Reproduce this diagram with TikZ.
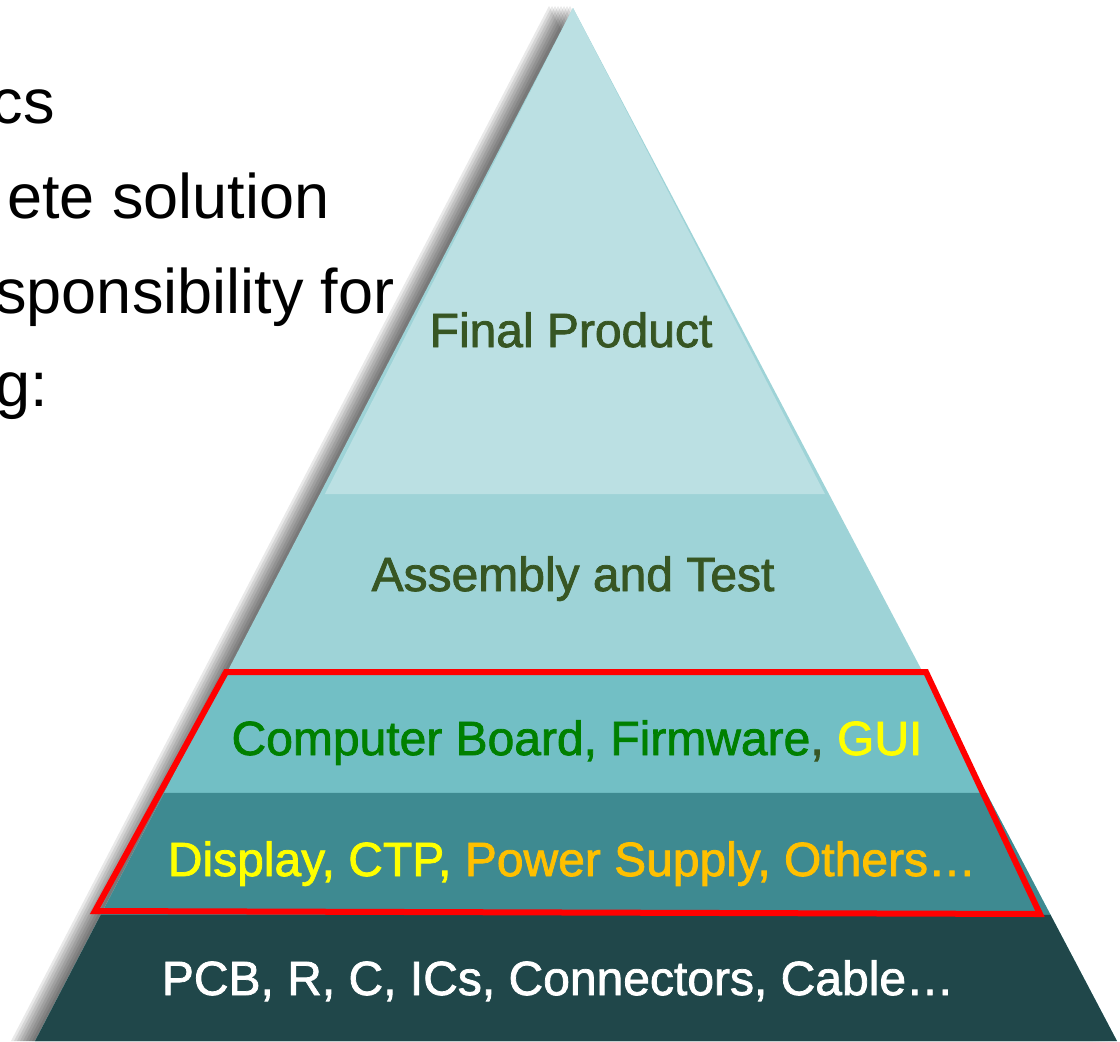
\documentclass[tikz,border=0pt]{standalone}
\usepackage{fontspec}
\setmainfont{Liberation Sans}
\newfontfamily\tierfont[FakeBold=1.6]{Liberation Sans}
\usepackage{xcolor}
\usepackage{tikz}
\usetikzlibrary{calc}
\definecolor{tierA}{HTML}{BBE0E3}
\definecolor{tierB}{HTML}{9ED3D7}
\definecolor{tierC}{HTML}{72BFC5}
\definecolor{tierD}{HTML}{3E8A91}
\definecolor{tierE}{HTML}{20474A}
\definecolor{olivetext}{HTML}{375623}
\definecolor{boardgreen}{HTML}{008000}
\definecolor{guiyellow}{HTML}{FFFF00}
\definecolor{psorange}{HTML}{FFC000}
\tikzset{
  tierlbl/.style={font=\tierfont\fontsize{24}{28}\selectfont, inner sep=0pt, anchor=base},
  bulletline/.style={font=\fontsize{31.5}{36}\selectfont, inner sep=0pt, anchor=base east},
  redbox/.style={draw=red, line width=3pt, line join=miter},
  shade/.style={fill=black, opacity=0.085}
}
\newcommand{\Tier}[3]{% #1=colour, #2=top fraction, #3=bottom fraction
  \fill[#1] ($(apex)!#2!(bl)$) -- ($(apex)!#2!(br)$) -- ($(apex)!#3!(br)$) -- ($(apex)!#3!(bl)$) -- cycle;
}

\begin{document}
\begin{tikzpicture}[x=0.5pt,y=-0.5pt]
  \useasboundingbox (0,0) rectangle (1120,1041);
  \fill[white] (0,0) rectangle (1120,1041);
  \clip (0,0) rectangle (1120,1041);
  % text cut off on the left
  \node[bulletline] (l1) at (55,123) {cs};
  \node[bulletline] (l2) at (330,218) {ete solution};
  \node[bulletline] (l3) at (395,313) {sponsibility for};
  \node[bulletline] (l4) at (48,406) {g:};
  % pyramid corners
  \coordinate (apex) at (573,8);
  \coordinate (bl) at (35,1041);
  \coordinate (br) at (1117,1041);
  % soft shadow on the left flank
  \foreach \s in {24,21,18,15,12,9,6,3}{
    \fill[shade] ($(apex)+(-\s,-2)$) -- ($(bl)+(-\s,0)$) -- ($(br)+(-\s,0)$) -- cycle;
  }
  % tiers, top to bottom
  \fill[tierB] (apex) -- (bl) -- (br) -- cycle;
  \fill[tierA] (apex) -- ($(apex)!0.4705!(bl)+(5,0)$) -- ($(apex)!0.4705!(br)+(-4,0)$) -- cycle;
  \Tier{tierC}{0.6409}{0.7599}
  \Tier{tierD}{0.7599}{0.8780}
  \Tier{tierE}{0.8780}{1}
  % labels
  \node[tierlbl, text=olivetext] (final) at (571,347) {Final Product};
  \node[tierlbl, text=olivetext] (assembly) at (573,591) {Assembly and Test};
  \node[tierlbl] (board) at (577,755) {\textcolor{boardgreen}{Computer Board, Firmware}\textcolor{olivetext}{, }\textcolor{guiyellow}{GUI}};
  \node[tierlbl] (display) at (572,876) {\textcolor{guiyellow}{Display, CTP, }\textcolor{psorange}{Power Supply, Others…}};
  \node[tierlbl, text=white] (parts) at (558,995) {PCB, R, C, ICs, Connectors, Cable…};
  % red frame round the two middle tiers
  \coordinate (rtl) at (226,672);
  \coordinate (rtr) at (926,672);
  \coordinate (rbr) at (1040,914);
  \coordinate (rbl) at (95,911);
  \draw[redbox] (rtl) -- (rtr) -- (rbr) -- (rbl) -- cycle;
\end{tikzpicture}
\end{document}
